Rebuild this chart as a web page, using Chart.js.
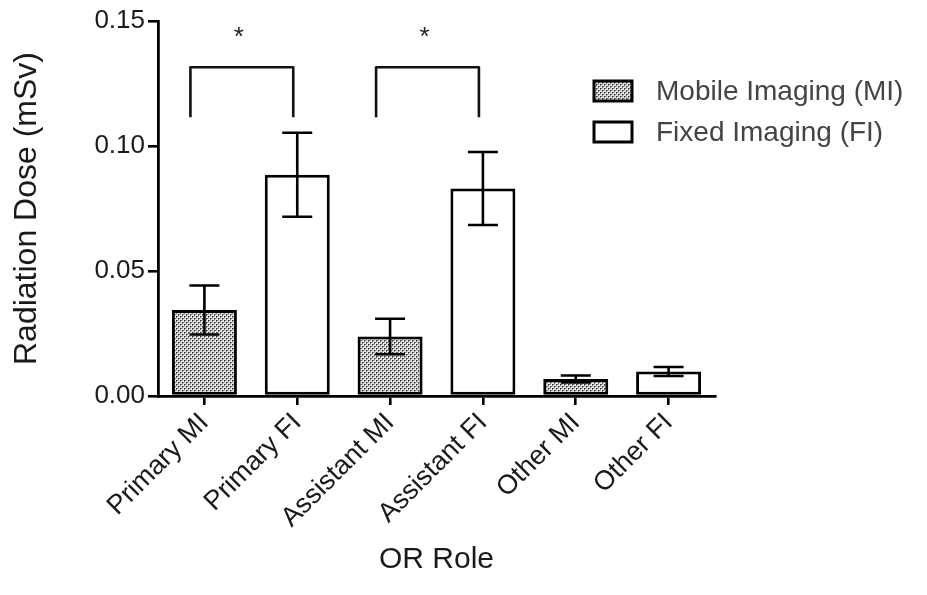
<!DOCTYPE html>
<html>
<head>
<meta charset="utf-8">
<script src="https://cdn.jsdelivr.net/npm/chart.js@4/dist/chart.umd.min.js"></script>
<style>
  html, body { margin: 0; padding: 0; background: #fff; }
  #wrap { width: 927px; height: 595px; position: relative; }
</style>
</head>
<body>
<div id="wrap"><canvas id="chart"></canvas></div>
<script>
// values
var categories = ['Primary MI', 'Primary FI', 'Assistant MI', 'Assistant FI', 'Other MI', 'Other FI'];
var mobileDose = [0.0344, null, 0.0238, null, 0.0068, null];
var mobileErr  = [0.0098, null, 0.0071, null, 0.0014, null];
var fixedDose  = [null, 0.0885, null, 0.0830, null, 0.0098];
var fixedErr   = [null, 0.0168, null, 0.0146, null, 0.0018];
var yTicks = [0, 0.05, 0.10, 0.15];
// significance brackets: [from, to] category index, bracket top / leg bottom (mSv)
var sigPairs = [[0, 1], [2, 3]];
var sigTop = 0.1315;
var sigLeg = 0.1115;
var sigStar = 0.1445;

var FONT = "'Liberation Sans', Arial, Helvetica, sans-serif";

function makeDots() {
    var c = document.createElement('canvas');
    c.width = 4;
    c.height = 4;
    var g = c.getContext('2d');
    g.fillStyle = '#e8e8e8';
    g.fillRect(0, 0, 4, 4);
    g.fillStyle = '#2e2e2e';
    g.fillRect(0, 0, 1, 1);
    g.fillRect(2, 2, 1, 1);
    g.fillStyle = '#7a7a7a';
    g.fillRect(1, 0, 1, 1);
    g.fillRect(0, 1, 1, 1);
    g.fillRect(3, 2, 1, 1);
    g.fillRect(2, 3, 1, 1);
    g.fillStyle = '#b4b4b4';
    g.fillRect(2, 0, 1, 1);
    g.fillRect(0, 2, 1, 1);
    return g.createPattern(c, 'repeat');
}

var dots = makeDots();

var errorBars = {
    id: 'errorBars',
    afterDatasetsDraw: function (chart) {
        var ctx = chart.ctx,
            y = chart.scales.y,
            errs = [mobileErr, fixedErr];

        ctx.save();
        ctx.strokeStyle = '#000';
        ctx.lineWidth = 2.6;
        chart.data.datasets.forEach(function (ds, di) {
            var meta = chart.getDatasetMeta(di);
            meta.data.forEach(function (bar, i) {
                var v = ds.data[i], e = errs[di][i], hi, lo;
                if (v === null || e === null) {
                    return;
                }
                hi = y.getPixelForValue(v + e);
                lo = y.getPixelForValue(v - e);
                ctx.beginPath();
                ctx.moveTo(bar.x, hi);
                ctx.lineTo(bar.x, lo);
                ctx.moveTo(bar.x - 15, hi);
                ctx.lineTo(bar.x + 15, hi);
                ctx.moveTo(bar.x - 15, lo);
                ctx.lineTo(bar.x + 15, lo);
                ctx.stroke();
            });
        });
        ctx.restore();
    }
};

var brackets = {
    id: 'brackets',
    afterDraw: function (chart) {
        var ctx = chart.ctx,
            x = chart.scales.x,
            y = chart.scales.y,
            top = y.getPixelForValue(sigTop),
            leg = y.getPixelForValue(sigLeg);

        ctx.save();
        ctx.strokeStyle = '#111';
        ctx.lineWidth = 2.6;
        ctx.lineJoin = 'round';
        sigPairs.forEach(function (p) {
            var x1 = x.getPixelForValue(p[0]) - 14,
                x2 = x.getPixelForValue(p[1]) - 4;
            ctx.beginPath();
            ctx.moveTo(x1, leg);
            ctx.lineTo(x1, top);
            ctx.lineTo(x2, top);
            ctx.lineTo(x2, leg);
            ctx.stroke();
            ctx.fillStyle = '#222';
            ctx.font = '26px ' + FONT;
            ctx.textAlign = 'center';
            ctx.textBaseline = 'middle';
            ctx.fillText('*', (x1 + x2) / 2 - 3, y.getPixelForValue(sigStar) + 3);
        });
        ctx.restore();
    }
};

var sideLegend = {
    id: 'sideLegend',
    afterDraw: function (chart) {
        var ctx = chart.ctx;
        ctx.save();
        chart.data.datasets.forEach(function (ds, i) {
            var cy = 91 + i * 41;
            ctx.fillStyle = ds.backgroundColor;
            ctx.fillRect(594, cy - 10, 38, 20);
            ctx.strokeStyle = '#000';
            ctx.lineWidth = 3;
            ctx.strokeRect(594, cy - 10, 38, 20);
            ctx.fillStyle = '#444';
            ctx.font = '28px ' + FONT;
            ctx.textAlign = 'left';
            ctx.textBaseline = 'middle';
            ctx.fillText(ds.label, 656, cy + 1);
        });
        ctx.restore();
    }
};

new Chart(document.getElementById('chart'), {
    type: 'bar',
    data: {
        labels: categories,
        datasets: [{
            label: 'Mobile Imaging (MI)',
            data: mobileDose,
            backgroundColor: dots,
            borderColor: '#000',
            borderWidth: 3,
            borderSkipped: false
        }, {
            label: 'Fixed Imaging (FI)',
            data: fixedDose,
            backgroundColor: '#fff',
            borderColor: '#000',
            borderWidth: 3,
            borderSkipped: false
        }]
    },
    options: {
        responsive: true,
        maintainAspectRatio: false,
        animation: false,
        skipNull: true,
        categoryPercentage: 1,
        barPercentage: 0.7,
        layout: {padding: {top: 21, right: 212, bottom: 0, left: 0}},
        plugins: {
            legend: {display: false},
            tooltip: {enabled: false}
        },
        scales: {
            x: {
                offset: true,
                afterFit: function (s) { s.height = 199; },
                grid: {
                    offset: false,
                    drawOnChartArea: false,
                    drawTicks: true,
                    tickLength: 9,
                    color: '#000',
                    lineWidth: 2.6
                },
                border: {display: true, color: '#000', width: 2.8},
                ticks: {
                    minRotation: 45,
                    maxRotation: 45,
                    padding: 2,
                    color: '#1a1a1a',
                    font: {family: FONT, size: 27}
                },
                title: {
                    display: true,
                    text: 'OR Role',
                    color: '#1a1a1a',
                    font: {family: FONT, size: 30},
                    padding: {top: 0, bottom: 17}
                }
            },
            y: {
                min: 0,
                max: 0.15,
                afterFit: function (s) { s.width = 158; },
                afterBuildTicks: function (s) {
                    s.ticks = yTicks.map(function (v) { return {value: v}; });
                },
                grid: {
                    drawOnChartArea: false,
                    drawTicks: true,
                    tickLength: 10,
                    color: '#000',
                    lineWidth: 2.6
                },
                border: {display: true, color: '#000', width: 2.8},
                ticks: {
                    padding: 3,
                    color: '#1a1a1a',
                    font: {family: FONT, size: 26},
                    callback: function (v) { return Number(v).toFixed(2); }
                },
                title: {
                    display: true,
                    text: 'Radiation Dose (mSv)',
                    color: '#1a1a1a',
                    font: {family: FONT, size: 32},
                    padding: {top: 8, bottom: 0}
                }
            }
        }
    },
    plugins: [errorBars, brackets, sideLegend]
});
</script>
</body>
</html>
